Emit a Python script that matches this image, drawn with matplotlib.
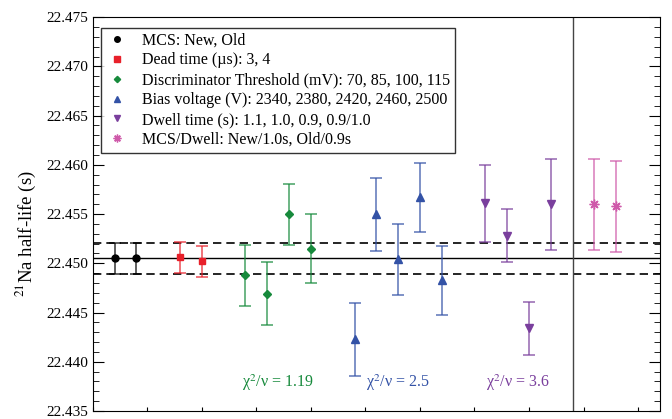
import matplotlib.pyplot as plt
from matplotlib.lines import Line2D
from matplotlib.ticker import MultipleLocator

plt.rcParams["font.family"] = ["Liberation Serif", "DejaVu Serif"]
plt.rcParams["mathtext.fontset"] = "stix"

# half-life results per systematic group: (x positions, values, errors)
mcs_x = [1, 2]
mcs_y = [22.4505, 22.4505]
mcs_err = [0.0016, 0.0016]

dead_x = [4, 5]
dead_y = [22.4506, 22.4502]
dead_err = [0.0016, 0.0016]

disc_x = [7, 8, 9, 10]
disc_y = [22.4488, 22.4469, 22.4550, 22.4515]
disc_err = [0.0031, 0.0032, 0.0031, 0.0035]

bias_x = [12, 13, 14, 15, 16]
bias_y = [22.4423, 22.4550, 22.4504, 22.4567, 22.4483]
bias_err = [0.0037, 0.0037, 0.0036, 0.0035, 0.0035]

dwell_x = [18, 19, 20, 21]
dwell_y = [22.4561, 22.4528, 22.4434, 22.4560]
dwell_err = [0.0039, 0.0027, 0.0027, 0.0046]

mcsdw_x = [23, 24]
mcsdw_y = [22.4560, 22.4558]
mcsdw_err = [0.0046, 0.0046]

mean_val = 22.4505
mean_err = 0.0016

chi_labels = [(8.5, "1.19"), (14.0, "2.5"), (19.5, "3.6")]

groups = [
    (mcs_x, mcs_y, mcs_err, "black", "o", 5, "MCS: New, Old"),
    (dead_x, dead_y, dead_err, "#e8202a", "s", 5, "Dead time (\u00b5s): 3, 4"),
    (disc_x, disc_y, disc_err, "#178a3c", "D", 4, "Discriminator Threshold (mV): 70, 85, 100, 115"),
    (bias_x, bias_y, bias_err, "#3352a6", "^", 6, "Bias voltage (V): 2340, 2380, 2420, 2460, 2500"),
    (dwell_x, dwell_y, dwell_err, "#7a3f9d", "v", 6, "Dwell time (s): 1.1, 1.0, 0.9, 0.9/1.0"),
    (mcsdw_x, mcsdw_y, mcsdw_err, "#cf5aaa", (8, 2, 0), 7, "MCS/Dwell: New/1.0s, Old/0.9s"),
]

fig = plt.figure(figsize=(6.72, 4.19), dpi=100)
ax = fig.add_axes([0.138, 0.019, 0.844, 0.940])

ax.axhline(mean_val, color="black", lw=1.0)
ax.axhline(mean_val + mean_err, color="black", lw=1.2, ls=(0, (5, 3)))
ax.axhline(mean_val - mean_err, color="black", lw=1.2, ls=(0, (5, 3)))
ax.axvline(22, color="#444444", lw=1.0)

handles = []
for xs, ys, errs, color, marker, ms, label in groups:
    ax.errorbar(xs, ys, yerr=errs, fmt="none", ecolor=color, alpha=0.8,
                elinewidth=1.1, capsize=4, capthick=1.1, zorder=2)
    ax.plot(xs, ys, ls="none", marker=marker, color=color, ms=ms,
            markeredgewidth=1.0, zorder=3)
    handles.append(Line2D([], [], ls="none", marker=marker, color=color,
                          ms=ms * 0.8, label=label))

colors_chi = ["#178a3c", "#3352a6", "#7a3f9d"]
for (xc, txt), c in zip(chi_labels, colors_chi):
    ax.text(xc, 22.4368, "\u03c7$^2$/\u03bd = " + txt, color=c, fontsize=11.5,
            ha="center", va="bottom")

ax.set_xlim(0, 26)
ax.set_ylim(22.435, 22.475)
ax.yaxis.set_major_locator(MultipleLocator(0.005))
ax.yaxis.set_minor_locator(MultipleLocator(0.001))
ax.yaxis.set_major_formatter(plt.FormatStrFormatter("%.3f"))
ax.xaxis.set_major_locator(MultipleLocator(2.5))
ax.tick_params(axis="y", which="both", direction="in", right=True,
               labelsize=11)
ax.tick_params(axis="y", which="major", length=8)
ax.tick_params(axis="y", which="minor", length=4)
ax.tick_params(axis="x", direction="in", length=3, labelbottom=False)
ax.set_ylabel(r"$^{21}$Na half-life (s)", fontsize=13.5)
ax.yaxis.set_label_coords(-0.097, 0.45)

leg = ax.legend(handles=handles, loc="upper left", bbox_to_anchor=(0.014, 0.973),
                fontsize=11.5, frameon=True, fancybox=False, edgecolor="black",
                handletextpad=0.8, handlelength=1.5, labelspacing=0.24,
                borderpad=0.3, borderaxespad=0)
leg.get_frame().set_linewidth(1.0)

fig.savefig("out.png", dpi=100)
